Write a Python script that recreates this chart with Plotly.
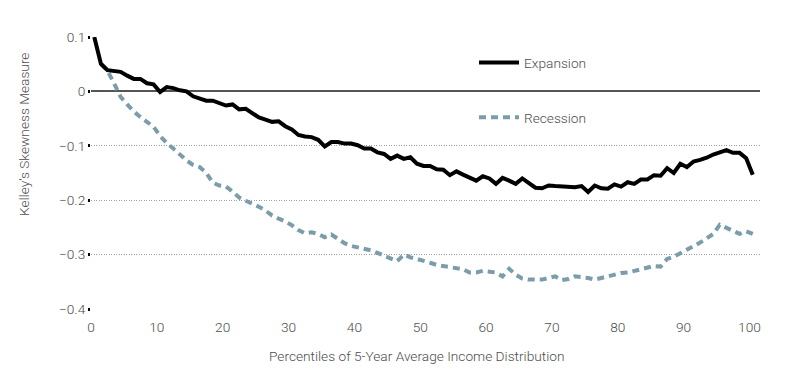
import plotly.graph_objects as go

# Percentile positions (one point per percentile bin)
percentiles = [p + 0.5 for p in range(101)]

expansion = [
    0.100, 0.051, 0.039, 0.037, 0.036, 0.029, 0.023, 0.023, 0.015, 0.013,
    -0.001, 0.008, 0.006, 0.002, 0.000, -0.009, -0.013, -0.017, -0.017, -0.022,
    -0.026, -0.024, -0.033, -0.032, -0.041, -0.048, -0.052, -0.056, -0.055, -0.064,
    -0.070, -0.080, -0.083, -0.084, -0.089, -0.101, -0.093, -0.093, -0.096, -0.096,
    -0.099, -0.105, -0.105, -0.112, -0.115, -0.124, -0.118, -0.124, -0.121, -0.133,
    -0.137, -0.137, -0.143, -0.144, -0.154, -0.147, -0.153, -0.159, -0.164, -0.156,
    -0.160, -0.170, -0.159, -0.164, -0.170, -0.160, -0.168, -0.177, -0.178, -0.173,
    -0.174, -0.175, -0.175, -0.176, -0.174, -0.185, -0.173, -0.178, -0.179, -0.171,
    -0.175, -0.167, -0.170, -0.162, -0.162, -0.154, -0.155, -0.141, -0.150, -0.133,
    -0.139, -0.129, -0.126, -0.122, -0.116, -0.112, -0.108, -0.113, -0.113, -0.123,
    -0.153,
]

recession = [
    None, 0.050, 0.038, 0.015, -0.010, -0.024, -0.037, -0.047, -0.056, -0.065,
    -0.082, -0.095, -0.105, -0.117, -0.127, -0.135, -0.139, -0.150, -0.168, -0.173,
    -0.175, -0.184, -0.195, -0.201, -0.206, -0.212, -0.219, -0.228, -0.234, -0.239,
    -0.246, -0.255, -0.261, -0.259, -0.262, -0.268, -0.263, -0.271, -0.279, -0.284,
    -0.287, -0.289, -0.292, -0.297, -0.302, -0.306, -0.312, -0.300, -0.305, -0.308,
    -0.311, -0.315, -0.319, -0.321, -0.323, -0.324, -0.327, -0.333, -0.333, -0.330,
    -0.331, -0.333, -0.340, -0.326, -0.337, -0.344, -0.346, -0.346, -0.346, -0.343,
    -0.340, -0.347, -0.345, -0.340, -0.341, -0.343, -0.346, -0.343, -0.340, -0.337,
    -0.334, -0.333, -0.330, -0.327, -0.323, -0.321, -0.322, -0.308, -0.304, -0.298,
    -0.292, -0.285, -0.278, -0.270, -0.262, -0.245, -0.251, -0.257, -0.262, -0.257,
    -0.262,
]

x_ticks = [0, 10, 20, 30, 40, 50, 60, 70, 80, 90, 100]
y_ticks = [0.1, 0, -0.1, -0.2, -0.3, -0.4]
y_tick_labels = ["0.1", "0", "\u22120.1", "\u22120.2", "\u22120.3", "\u22120.4"]

FONT = "Roboto"
TEXT = "#4d4d4d"
FS = 13.7

# figure drawn inside the page's default 8px body margin
W, H = 792, 383
L, R, T, B = 83, 752, 29, 301   # plot-area edges in figure pixels
PW, PH = R - L, B - T

def f():
    return dict(family=FONT, size=FS, color=TEXT, weight=300)

fig = go.Figure()
fig.add_trace(go.Scatter(
    x=percentiles, y=recession, mode="lines", name="Recession",
    legendgroup="b", legendrank=2,
    line=dict(color="#7b9dab", width=4, dash="7px,5px"),
    cliponaxis=False,
))
fig.add_trace(go.Scatter(
    x=percentiles, y=expansion, mode="lines", name="Expansion",
    legendgroup="a", legendrank=1,
    line=dict(color="black", width=4),
    cliponaxis=False,
))

fig.update_layout(
    width=W, height=H,
    margin=dict(l=L, r=W - R, t=T, b=H - B),
    paper_bgcolor="white", plot_bgcolor="white",
    font=f(),
    showlegend=True,
    legend=dict(
        x=(466 - L) / PW, y=1 - (39 - T) / PH, xanchor="left", yanchor="top",
        bgcolor="rgba(0,0,0,0)", tracegroupgap=34,
        font=f(), itemwidth=40,
    ),
    xaxis=dict(
        range=[0, 101.6], tickvals=x_ticks, ticks="", showgrid=False,
        zeroline=False, showline=False, ticklabelstandoff=8,
        tickfont=f(),
    ),
    yaxis=dict(
        range=[-0.4, 0.1], tickvals=y_ticks, ticktext=y_tick_labels,
        ticks="outside", ticklen=2, tickwidth=3, tickcolor="black",
        showgrid=True, gridcolor="#a0a0a0", gridwidth=1, griddash="1px,1.5px",
        zeroline=True, zerolinecolor="#555555", zerolinewidth=1.5,
        showline=False,
        tickfont=f(),
    ),
    annotations=[
        dict(text="Percentiles of 5-Year Average Income Distribution",
             xref="paper", yref="paper", x=(416 - 8 - L) / PW, y=-(356 - 8 - B) / PH,
             xanchor="center", yanchor="middle", showarrow=False, font=f()),
        dict(text="Kelley\u2019s Skewness Measure",
             xref="paper", yref="paper", x=-(L - (24 - 8)) / PW, y=(B - (135 - 8)) / PH,
             xanchor="center", yanchor="middle", showarrow=False, textangle=-90,
             font=f()),
    ],
)

fig.write_html("out.html")
